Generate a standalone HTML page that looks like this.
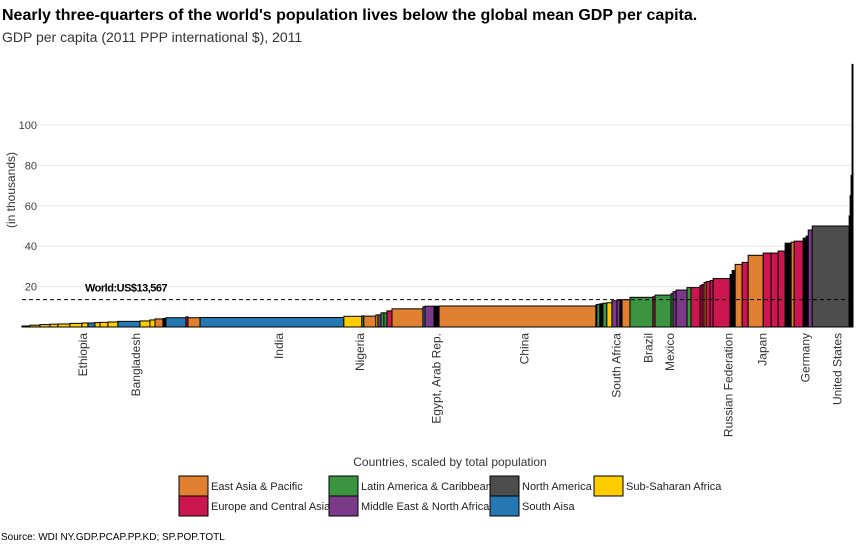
<!DOCTYPE html>
<html><head><meta charset="utf-8"><style>
body{margin:0;background:#fff;font-family:"Liberation Sans",sans-serif;}
svg{display:block}
</style></head><body>
<svg id="chart" width="865" height="551" xmlns="http://www.w3.org/2000/svg" font-family="Liberation Sans, sans-serif">
<text x="2" y="20" font-size="16" font-weight="bold" fill="#000">Nearly three-quarters of the world's population lives below the global mean GDP per capita.</text>
<text x="2" y="42" font-size="14" fill="#333">GDP per capita (2011 PPP international $), 2011</text>
<g id="grid"></g><g id="bars"></g><g id="labels"></g>
<text transform="translate(15,190) rotate(-90)" text-anchor="middle" font-size="12" fill="#333">(in thousands)</text>
<text x="450" y="466" text-anchor="middle" font-size="12" fill="#333">Countries, scaled by total population</text>
<g id="legend"></g>
<text x="1" y="540" font-size="10" fill="#000">Source: WDI NY.GDP.PCAP.PP.KD; SP.POP.TOTL</text>
</svg>
<script>
const regions=["EAP","ECA","LAC","NA","SSA","MENA","SA","OTH"];
const regionColors=["#E08030","#CC1650","#3A9440","#4D4D4D","#FFCC00","#7B3A87","#2678B2","#000000"];
const countryNames=["c1","c2","c3","c4","c5","Ethiopia","c7","c8","c9","c10","c11","Bangladesh","c13","c14","c15","c16","Pakistan","c18","Philippines","India","Nigeria","c22","Vietnam","c24","c25","c26","c27","c28","Indonesia","c30","Egypt, Arab Rep.","c32","China","c34","c35","c36","c37","South Africa","c39","c40","c41","Thailand","Brazil","c44","Mexico","c46","c47","Iran","c49","Turkey","c51","c52","c53","c54","c55","Russian Federation","c57","c58","Malaysia","c60","Japan","c62","c63","c64","c65","c66","Germany","c68","c69","c70","United States","c72","c73","c74","c75"];
const countryRegion=["SSA","SSA","SSA","SSA","SSA","SSA","SSA","SA","SSA","SSA","SSA","SA","SSA","SSA","EAP","OTH","SA","ECA","EAP","SA","SSA","LAC","EAP","SSA","MENA","LAC","LAC","ECA","EAP","SA","MENA","OTH","EAP","LAC","LAC","OTH","LAC","SSA","MENA","MENA","OTH","EAP","LAC","ECA","LAC","LAC","MENA","MENA","LAC","ECA","ECA","ECA","EAP","ECA","ECA","ECA","OTH","OTH","EAP","ECA","EAP","ECA","ECA","ECA","OTH","EAP","ECA","OTH","OTH","MENA","NA","OTH","OTH","OTH","OTH"];
const population=[66,83,83,66,100,100,50,58,42,66,83,183,83,42,66,25,166,17,100,1195,149,17,100,17,25,25,25,42,257,17,75,42,1303,8,25,25,33,42,42,25,17,66,191,17,133,17,25,91,33,75,17,17,17,33,25,141,17,25,58,50,125,66,58,58,50,25,75,25,17,33,307,8,8,8,8];
const gdpThousands=[0.5,0.9,1.2,1.4,1.5,1.8,2.0,2.0,2.2,2.3,2.5,2.8,3.0,3.5,4.0,4.2,4.6,5.0,4.6,4.7,5.3,5.5,5.4,6.0,6.0,7.0,7.0,8.0,9.0,10.0,10.3,10.3,10.4,11.0,11.2,11.5,11.8,12.0,13.0,13.4,13.5,13.5,14.7,15.0,15.8,16.5,17.5,18.3,19.5,19.5,20.5,21.0,22.0,22.5,23.0,24.0,26.0,28.0,31.0,32.0,35.5,36.6,36.6,37.6,41.5,42.0,42.5,44.0,45.0,48.0,50.0,55.0,65.0,75.0,130.0];
const yTicks=[20,40,60,80,100];
const worldMean=13.567;
const labelCountries=["Ethiopia","Bangladesh","India","Nigeria","Egypt, Arab Rep.","China","South Africa","Brazil","Mexico","Russian Federation","Japan","Germany","United States"];

const NS="http://www.w3.org/2000/svg";
const X0=22,X1=853,Y0=327,PX_PER_K=2.02;
const totalPop=population.reduce((a,b)=>a+b,0);
const xs=p=>X0+(p/totalPop)*(X1-X0);
const ys=v=>Y0-v*PX_PER_K;
function mk(t,a,parent){const e=document.createElementNS(NS,t);for(const k in a)e.setAttribute(k,a[k]);parent.appendChild(e);return e;}
const grid=document.getElementById('grid');
yTicks.forEach(t=>{
  const l=mk('line',{x1:X0,x2:X1,y1:ys(t),y2:ys(t),stroke:'#e6e6e6','stroke-width':1},grid);
  
  
  const tx=mk('text',{x:37,y:ys(t)+4,'text-anchor':'end','font-size':11,fill:'#444'},grid);
  tx.textContent=t;
  
  
});
const bars=document.getElementById('bars'),labels=document.getElementById('labels');
let cum=0;
population.forEach((p,i)=>{
  const x=xs(cum),w=xs(cum+p)-x;cum+=p;
  const col=regionColors[regions.indexOf(countryRegion[i])];
  const r=mk('rect',{x:x,y:ys(gdpThousands[i]),width:Math.max(w,0.5),height:gdpThousands[i]*PX_PER_K,fill:col,stroke:'#000','stroke-width':1},bars);
  
  
  if(labelCountries.includes(countryNames[i])){
    const cx=x+w/2+11;
    const t=mk('text',{transform:`translate(${cx},333) rotate(-90)`,'text-anchor':'end','font-size':12,fill:'#333'},labels);
    t.textContent=countryNames[i];
    
    
  }
});
const dl=mk('line',{x1:X0,x2:X1,y1:ys(worldMean),y2:ys(worldMean),stroke:'#000','stroke-width':1,'stroke-dasharray':'4,3'},bars);


const wl=mk('text',{x:85,y:ys(worldMean)-8,'font-size':11,'font-weight':'bold',fill:'#000','letter-spacing':'-0.5'},bars);
wl.textContent='World:US$13,567';


const legend=document.getElementById('legend');
const legendItems=[[179,476,0,"East Asia & Pacific"],[179,496,1,"Europe and Central Asia"],[329,476,2,"Latin America & Caribbean"],[329,496,5,"Middle East & North Africa"],[490,476,3,"North America"],[490,496,6,"South Aisa"],[594,476,4,"Sub-Saharan Africa"]];
legendItems.forEach(it=>{
  const g=mk('g',{},legend);
  
  
  mk('rect',{x:it[0],y:it[1],width:29,height:20,fill:regionColors[it[2]],stroke:'#000','stroke-width':1},g);
  const t=mk('text',{x:it[0]+32,y:it[1]+14,'font-size':11,fill:'#222'},g);
  t.textContent=it[3];
});
</script>
</body></html>
